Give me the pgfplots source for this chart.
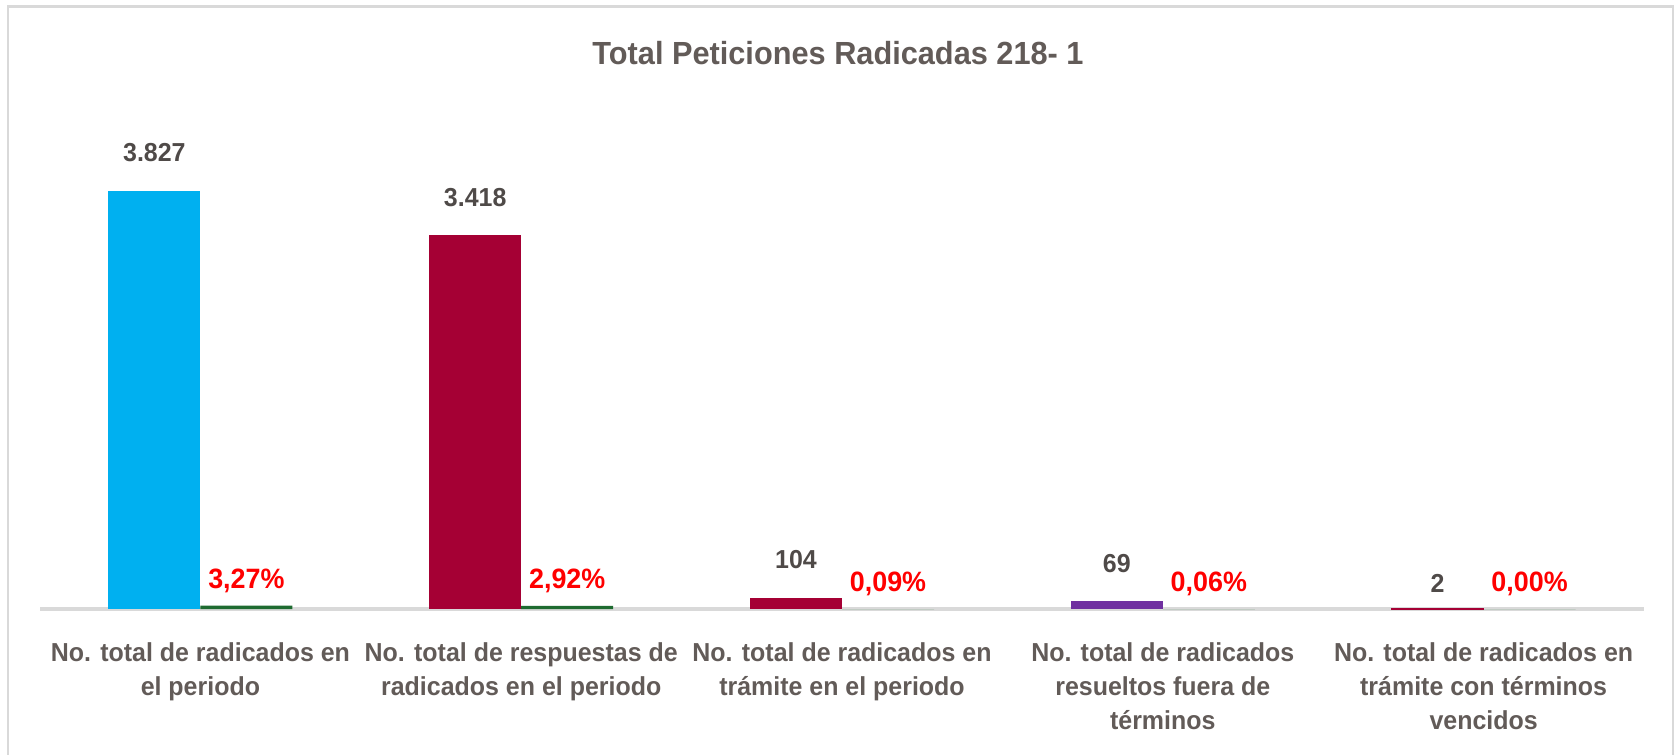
\documentclass[border=0pt]{standalone}
\usepackage{pgfplots}
\pgfplotsset{compat=1.18}
\usepackage{fontspec}
\setmainfont[FakeStretch=0.96]{Liberation Sans}
\definecolor{cblue}{HTML}{00B0F0}
\definecolor{ccrim}{HTML}{A50034}
\definecolor{cpurp}{HTML}{7030A0}
\definecolor{cgreen}{HTML}{1E6B30}
\definecolor{cred}{HTML}{FF0000}
\definecolor{ctxt}{HTML}{625B58}
\definecolor{cnum}{HTML}{4F4A48}
\definecolor{cgrid}{HTML}{D9D9D9}
\begin{document}
\begin{tikzpicture}
\path[use as bounding box] (0,0) rectangle (839.5bp,377.5bp);
\draw[cgrid, line width=1bp] (3.75bp,-5bp) rectangle (836.5bp,374.5bp);
\draw[cgrid, line width=1.2bp] (3.75bp,374.3bp) -- (836.5bp,374.3bp);
\node[font=\fontsize{16bp}{19bp}\selectfont\bfseries, text=ctxt] at (419bp,351bp) {Total Peticiones Radicadas 218- 1};
\begin{axis}[
  at={(20bp,73bp)}, anchor=south west,
  scale only axis, width=802bp, height=246bp,
  xmin=-0.5, xmax=4.5, ymin=0, ymax=4500,
  axis x line=bottom, axis y line=none,
  axis line style={draw=cgrid, line width=1.6bp, -},
  xtick={0,1,2,3,4}, major tick length=0pt,
  xticklabels={{No. total de radicados en\\el periodo},{No. total de respuestas de\\radicados en el periodo},{No. total de radicados en\\trámite en el periodo},{No. total de radicados\\resueltos fuera de\\términos},{No. total de radicados en\\trámite con términos\\vencidos}},
  xticklabel style={align=center, anchor=north, inner sep=0pt, yshift=-16.5bp, text=ctxt, font=\fontsize{13bp}{17bp}\selectfont\bfseries},
  ybar, bar width=46bp,
  clip=false,
  point meta=explicit symbolic,
  nodes near coords,
]
\addplot[fill=cblue, draw=none, bar shift=-23bp, every node near coord/.append style={anchor=center, yshift=19bp, text=cnum, font=\fontsize{13bp}{16bp}\selectfont\bfseries}] coordinates {(0,3827) [3.827]};
\addplot[fill=ccrim, draw=none, bar shift=-23bp, every node near coord/.append style={anchor=center, yshift=19bp, text=cnum, font=\fontsize{13bp}{16bp}\selectfont\bfseries}] coordinates {(1,3418) [3.418]};
\addplot[fill=ccrim, draw=none, bar shift=-23bp, every node near coord/.append style={anchor=center, yshift=19bp, text=cnum, font=\fontsize{13bp}{16bp}\selectfont\bfseries}] coordinates {(2,104) [104]};
\addplot[fill=cpurp, draw=none, bar shift=-23bp, every node near coord/.append style={anchor=center, yshift=19bp, text=cnum, font=\fontsize{13bp}{16bp}\selectfont\bfseries}] coordinates {(3,69) [69]};
\addplot[fill=ccrim, draw=ccrim, line width=0.8bp, bar shift=-23bp, every node near coord/.append style={anchor=center, yshift=12.5bp, text=cnum, font=\fontsize{13bp}{16bp}\selectfont\bfseries}] coordinates {(4,2) [2]};
\addplot[fill=cgreen, draw=none, bar shift=23bp, every node near coord/.append style={anchor=center, yshift=12.5bp, text=cred, font=\fontsize{14bp}{16bp}\selectfont\bfseries}] coordinates {(0,30) [3,27\%] (1,28) [2,92\%] (2,0) [0,09\%] (3,0) [0,06\%] (4,0) [0,00\%]};
\end{axis}
\end{tikzpicture}
\end{document}
